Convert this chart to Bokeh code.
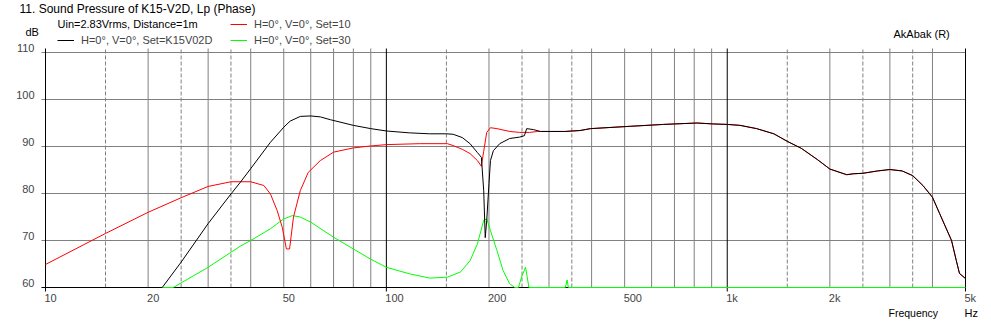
import math
from bokeh.plotting import figure
from bokeh.models import Range1d, Label, LabelSet, ColumnDataSource, Legend, LegendItem
from bokeh.core.properties import value
from bokeh.embed import file_html
from bokeh.resources import INLINE

# ---------------- data ----------------
black_f = [22, 25, 30, 35, 37.3, 40, 45.7, 50, 52.2, 55.9, 60, 64, 68.5, 80, 90, 100, 117,
           134, 150, 157, 167, 176, 185, 190, 193, 195, 197, 200, 202, 206, 215, 230,
           246, 254, 258, 270, 283, 334, 370, 397, 520, 650, 815, 910, 1000, 1090, 1220,
           1370, 1500, 1650, 1840, 2000, 2240, 2350, 2500, 2760, 3000, 3260, 3500, 3750,
           4000, 4200, 4550, 4700, 4800, 5000]
black_db = [60, 65.4, 73.6, 79.9, 82.4, 85.3, 90.9, 94.1, 95.4, 96.4, 96.5, 96.3, 95.7,
            94.5, 93.8, 93.3, 92.9, 92.7, 92.7, 92.6, 91.9, 90.6, 88.7, 87.7, 80.6, 70.6,
            74.3, 82.1, 87.0, 89.1, 90.6, 91.7, 92.0, 92.3, 93.8, 93.6, 93.2, 93.2, 93.4,
            93.8, 94.3, 94.7, 95.0, 94.8, 94.7, 94.5, 93.8, 92.7, 91.1, 89.6, 87.2, 85.2,
            84.0, 84.2, 84.3, 84.8, 85.1, 84.8, 83.8, 81.7, 79.2, 75.7, 70.0, 65.7, 63.0,
            61.9]

red_f = [10, 15, 20, 25, 30, 35, 40, 43.7, 45.7, 47.8, 49.5, 50.9, 52, 53.4, 55.9, 59, 64,
         70, 80, 89.6, 100, 125, 151, 157, 167, 176, 185, 190, 193, 197, 202, 211, 230, 246,
         263, 278, 283, 334, 370, 397, 520, 650, 815, 910, 1000, 1090, 1220, 1370, 1500,
         1650, 1840, 2000, 2240, 2350, 2500, 2760, 3000, 3260, 3500, 3750, 4000, 4200,
         4550, 4700, 4800, 5000]
red_db = [64.9, 71.5, 76.0, 79.1, 81.5, 82.5, 82.5, 81.7, 79.9, 76.4, 72.8, 68.2, 68.2, 75.0,
          80.6, 84.5, 87.0, 88.8, 89.7, 90.1, 90.4, 90.6, 90.6, 90.2, 89.4, 88.5, 87.0, 85.8,
          89.0, 93.0, 94.0, 93.8, 93.2, 93.0, 93.0, 93.2, 93.2, 93.2, 93.4, 93.8, 94.3,
          94.7, 95.0, 94.8, 94.7, 94.5, 93.8, 92.7, 91.1, 89.6, 87.2, 85.2, 84.0, 84.2,
          84.3, 84.8, 85.1, 84.8, 83.8, 81.7, 79.2, 75.7, 70.0, 65.7, 63.0, 61.9]

green_f = [22, 23.7, 30, 35, 37.3, 40, 45.7, 50, 53, 55.9, 60, 70, 80, 89.6, 100, 117, 134,
           151, 165, 176, 185, 193, 197, 202, 211, 220, 230, 238, 244, 250, 256, 262, 335,
           339, 342, 5000]
green_db = [60, 60, 64.3, 67.5, 68.8, 70.0, 72.5, 74.6, 75.3, 75.0, 73.9, 70.7, 68.2, 66.1,
            64.3, 62.9, 62.0, 62.2, 63.3, 65.7, 69.3, 74.3, 74.6, 72.1, 67.9, 63.6, 60.8,
            60, 60, 62.5, 64.3, 60, 60, 61.6, 60, 60]

y_ticks = [60, 70, 80, 90, 100, 110]
y_labels = ["60", "70", "80", "90", "100", "110"]
x_label_ticks = [10, 20, 50, 100, 200, 500, 1000, 2000, 5000]
x_labels = ["10", "20", "50", "100", "200", "500", "1k", "2k", "5k"]
grid_solid = [20, 30, 40, 50, 60, 70, 80, 90, 200, 300, 400, 500, 600, 700, 800, 900,
              2000, 3000, 4000]
grid_dashed = [15, 25, 35, 150, 250, 350, 1500, 2500, 3500]
grid_major = [10, 100, 1000, 5000]
x_min, x_max = 10, 5000
y_min, y_max = 60, 110

title_text = "11. Sound Pressure of K15-V2D, Lp (Phase)"
info_text = "Uin=2.83Vrms, Distance=1m"
legend_black = "H=0°, V=0°, Set=K15V02D"
legend_red = "H=0°, V=0°, Set=10"
legend_green = "H=0°, V=0°, Set=30"

FONT = "Liberation Sans"
FS = "11px"
GREY = "#808080"

# ---------------- layout (pixels) ----------------
W, H = 991, 324
L, R, T, B = 45, 965, 52, 287          # plot box in page pixels
TICK = 4
px_per_dec = (R - L) / math.log10(x_max / x_min)
px_per_db = (B - T) / (y_max - y_min)
x_lo = x_min / 10 ** (L / px_per_dec)
x_hi = x_max * 10 ** ((W - R) / px_per_dec)
y_lo = y_min - (H - B) / px_per_db
y_hi = y_max + T / px_per_db
tick_x = 10 ** (TICK / px_per_dec)
tick_y = TICK / px_per_db

p = figure(width=W, height=H, x_axis_type="log",
           x_range=Range1d(x_lo, x_hi), y_range=Range1d(y_lo, y_hi),
           x_axis_location=None, y_axis_location=None,
           output_backend="svg", toolbar_location=None,
           min_border=0, min_border_left=0, min_border_right=0,
           min_border_top=0, min_border_bottom=0)
p.outline_line_color = None
p.background_fill_color = "white"
p.border_fill_color = "white"
p.xgrid.visible = False
p.ygrid.visible = False


def vgrid(ticks, color, dash="solid", lo=y_min, hi=y_max + tick_y):
    n = len(ticks)
    p.segment(x0=ticks, y0=[lo] * n, x1=ticks, y1=[hi] * n,
              line_color=color, line_width=1, line_dash=dash)


def hgrid(ticks, color, lo=x_min / tick_x, hi=x_max):
    n = len(ticks)
    p.segment(x0=[lo] * n, y0=ticks, x1=[hi] * n, y1=ticks,
              line_color=color, line_width=1)


hgrid(y_ticks[1:], GREY)
vgrid(grid_solid, GREY)
vgrid(grid_dashed, GREY, "4 2")
vgrid(grid_major, "black", lo=y_min - tick_y)
hgrid([y_min], "black")

# curves
rg = p.line(green_f, green_db, line_color="#00ff00", line_width=1)
rr = p.line(red_f, red_db, line_color="#ff0000", line_width=1)
rb = p.line(black_f, black_db, line_color="black", line_width=1)

# legends
common = dict(glyph_width=17, glyph_height=14, label_height=14, label_standoff=7,
              padding=0, margin=0, spacing=2, border_line_color=None,
              background_fill_alpha=0, label_text_font=FONT, label_text_font_size=FS)
leg1 = Legend(items=[LegendItem(label=legend_black, renderers=[rb])],
              location=(57, H - 47), **common)
leg2 = Legend(items=[LegendItem(label=legend_red, renderers=[rr]),
                     LegendItem(label=legend_green, renderers=[rg])],
              location=(230, H - 47), **common)
p.add_layout(leg1)
p.add_layout(leg2)

# tick labels
ysrc = ColumnDataSource(dict(x=[x_min] * len(y_ticks), y=y_ticks, t=y_labels))
p.add_layout(LabelSet(x="x", y="y", text="t", source=ysrc, x_offset=-11, y_offset=5,
                      text_align="right", text_baseline="middle",
                      text_font=value(FONT), text_font_size=value(FS)))
xsrc = ColumnDataSource(dict(x=x_label_ticks, y=[y_min] * len(x_label_ticks), t=x_labels))
p.add_layout(LabelSet(x="x", y="y", text="t", source=xsrc, x_offset=-1, y_offset=-10.5,
                      text_align="left", text_baseline="middle",
                      text_font=value(FONT), text_font_size=value(FS)))


def lab(text, px, py, size=FS, align="left", baseline="middle"):
    p.add_layout(Label(x=px, y=H - py, x_units="screen", y_units="screen",
                       text=text, text_align=align, text_baseline=baseline,
                       text_font=FONT, text_font_size=size, text_color="black"))


lab(title_text, 19, 8, size="12px")
lab("dB", 25, 31)
lab(info_text, 57, 23)
lab("AkAbak (R)", 893, 33.5)
lab("Frequency", 888, 312.5, size="10.5px")
lab("Hz", 964, 312.5)

open("out.html", "w").write(file_html(p, INLINE))
